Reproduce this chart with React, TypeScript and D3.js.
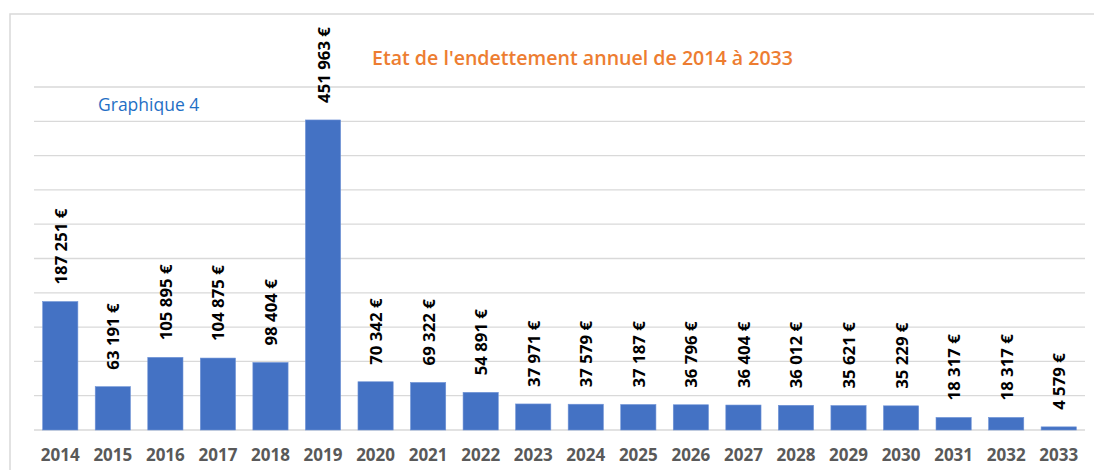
import React from "react";
import * as d3 from "d3";

const years = ["2014","2015","2016","2017","2018","2019","2020","2021","2022","2023","2024","2025","2026","2027","2028","2029","2030","2031","2032","2033"];
const debt = [187251,63191,105895,104875,98404,451963,70342,69322,54891,37971,37579,37187,36796,36404,36012,35621,35229,18317,18317,4579];
const yTicks = [0,50000,100000,150000,200000,250000,300000,350000,400000,450000,500000];
const titleText = "Etat de l'endettement annuel de 2014 à 2033";
const subtitleText = "Graphique 4";

const W = 1094, H = 470;
const left = 34, right = 1085, top = 87, bottom = 430;

const fmt = (v: number) => d3.format(",")(v).replace(/,/g, " ") + " €";

export default function App() {
  const x = d3.scaleBand<string>().domain(years).range([left, right]).paddingInner(0.33).paddingOuter(0.165);
  const y = d3.scaleLinear().domain([0, 500000]).range([bottom, top]);
  const font = "'Open Sans', 'Liberation Sans', sans-serif";
  return (
    <svg width={W} height={H} style={{ position: "absolute", left: 0, top: 0, background: "#fff" }} fontFamily={font}>
      <rect x={10} y={14} width={W} height={H} fill="#fff" stroke="#d9d9d9" strokeWidth={1.5} />
      {yTicks.map((t) => (
        <line key={t} x1={left} x2={right} y1={y(t)} y2={y(t)} stroke="#d9d9d9" strokeWidth={1.3} />
      ))}
      {debt.map((v, i) => (
        <rect key={years[i]} x={x(years[i])} y={y(v)} width={x.bandwidth()} height={bottom - y(v)} fill="#4472C4" stroke="#6f93d6" strokeWidth={0.6} />
      ))}
      {debt.map((v, i) => {
        const cx = (x(years[i]) as number) + x.bandwidth() / 2;
        const ty = y(v) - 17;
        return (
          <text key={"l" + i} transform={`translate(${cx},${ty}) rotate(-90)`} dominantBaseline="central" fontSize={16.8} fontWeight={700} fill="#000">
            {fmt(v)}
          </text>
        );
      })}
      {years.map((yr) => (
        <text key={"y" + yr} x={(x(yr) as number) + x.bandwidth() / 2} y={461} textAnchor="middle" fontSize={17} fontWeight={700} fill="#595959">
          {yr}
        </text>
      ))}
      <text x={372} y={65} fontSize={19} fontWeight={600} fill="#ED7D31" textLength={421} lengthAdjust="spacingAndGlyphs">
        {titleText}
      </text>
      <text x={98} y={111} fontSize={17.5} fill="#1F6FC5">
        {subtitleText}
      </text>
    </svg>
  );
}
